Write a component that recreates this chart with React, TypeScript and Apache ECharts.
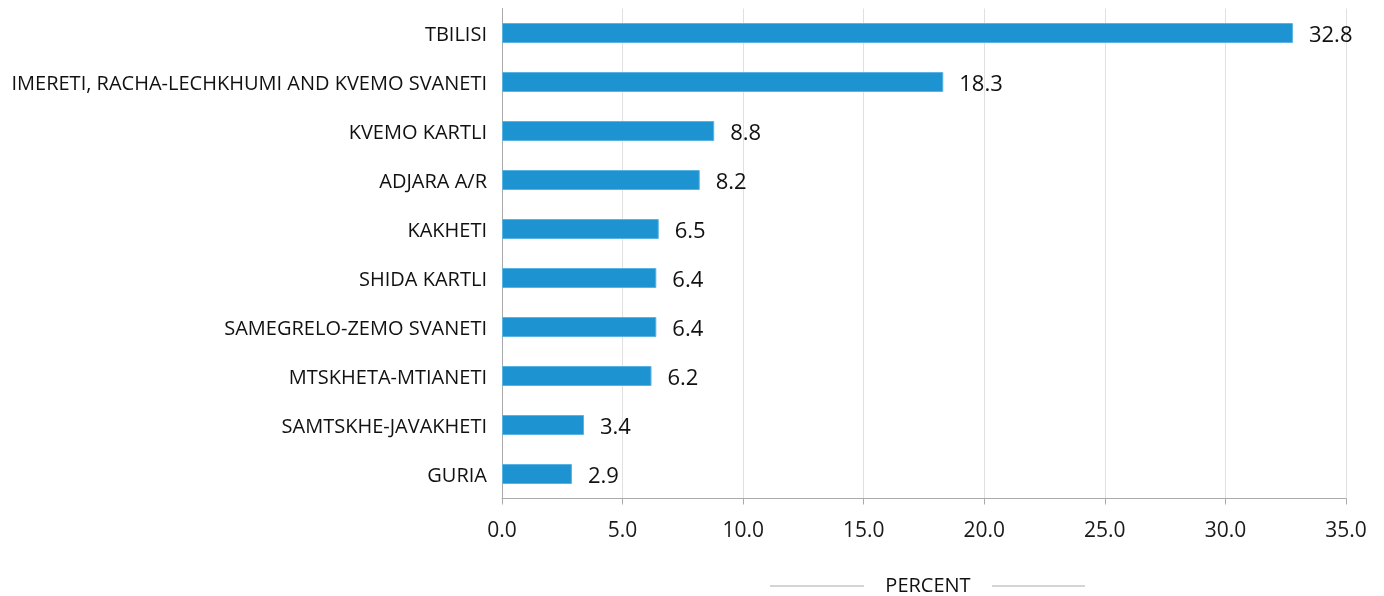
import React, { useEffect, useRef } from "react";
import * as echarts from "echarts";

const categories = [
  "TBILISI",
  "IMERETI, RACHA-LECHKHUMI AND KVEMO SVANETI",
  "KVEMO KARTLI",
  "ADJARA A/R",
  "KAKHETI",
  "SHIDA KARTLI",
  "SAMEGRELO-ZEMO SVANETI",
  "MTSKHETA-MTIANETI",
  "SAMTSKHE-JAVAKHETI",
  "GURIA",
];
const values = [32.8, 18.3, 8.8, 8.2, 6.5, 6.4, 6.4, 6.2, 3.4, 2.9];
const axisTitle = "PERCENT";

const FONT = "'Open Sans', 'Noto Sans', sans-serif";

export default function App() {
  const ref = useRef<HTMLDivElement>(null);
  useEffect(() => {
    if (!ref.current) return;
    const chart = echarts.init(ref.current, undefined, { renderer: "svg" });
    chart.setOption({
      animation: false,
      textStyle: { fontFamily: FONT },
      grid: { left: 502, right: 38, top: 8.5, bottom: 97.5, containLabel: false },
      xAxis: {
        type: "value",
        min: 0,
        max: 35,
        interval: 5,
        axisLine: { show: true, lineStyle: { color: "#aaaaaa", width: 1 } },
        axisTick: { show: true, length: 6, lineStyle: { color: "#aaaaaa" } },
        splitLine: { show: true, lineStyle: { color: "#e0e0e0", width: 1 } },
        axisLabel: {
          color: "#1a1a1a",
          fontSize: 21,
          fontFamily: FONT,
          margin: 20,
          formatter: (v: number) => v.toFixed(1),
        },
      },
      yAxis: {
        type: "category",
        inverse: true,
        data: categories,
        axisLine: { show: true, lineStyle: { color: "#aaaaaa", width: 1 } },
        axisTick: { show: false },
        axisLabel: { color: "#111", fontSize: 20, fontFamily: FONT, margin: 15 },
      },
      series: [
        {
          type: "bar",
          data: values,
          barWidth: 20,
          itemStyle: { color: "#1e93d2", borderColor: "#5ab4e3", borderWidth: 1 },
          label: {
            show: true,
            position: "right",
            distance: 16,
            color: "#111",
            fontSize: 22,
            fontFamily: FONT,
            formatter: (p: any) => Number(p.value).toFixed(1),
          },
        },
      ],
      graphic: [
        {
          type: "line",
          shape: { x1: 770, y1: 586, x2: 864, y2: 586 },
          style: { stroke: "#aaaaaa", lineWidth: 1 },
        },
        {
          type: "line",
          shape: { x1: 992, y1: 586, x2: 1085, y2: 586 },
          style: { stroke: "#aaaaaa", lineWidth: 1 },
        },
        {
          type: "text",
          x: 928,
          y: 584,
          style: {
            text: axisTitle,
            fontSize: 20,
            fontFamily: FONT,
            fill: "#111",
            align: "center",
            verticalAlign: "middle",
          },
        },
      ],
    });
    return () => chart.dispose();
  }, []);
  return (
    <div
      ref={ref}
      style={{ position: "fixed", left: 0, top: 0, width: 1384, height: 596 }}
    />
  );
}
